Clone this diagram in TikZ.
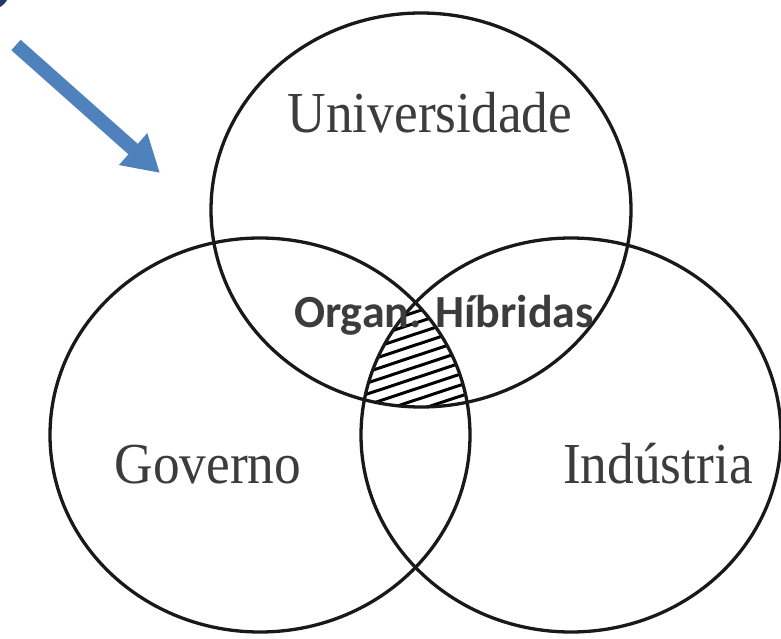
\documentclass[tikz,border=0pt]{standalone}
\usepackage{fontspec}
\setmainfont{Liberation Serif}
\newfontfamily\carlito{Carlito}
\usetikzlibrary{arrows.meta}
\definecolor{arrowblue}{HTML}{4F81BD}
\definecolor{navy}{HTML}{1F3864}
\definecolor{txtgray}{HTML}{3C3C3C}
\begin{document}
\begin{tikzpicture}[x=1pt,y=-1pt,
  venn/.style={draw=black!90,line width=3.3pt},
  lbl/.style={font=\fontsize{58}{60}\selectfont,text=txtgray,xscale=0.92,anchor=base,inner sep=0pt},
  hyb/.style={font=\carlito\bfseries\fontsize{46}{50}\selectfont,text=txtgray,anchor=base,inner sep=0pt},
  hatchline/.style={line width=3pt,black}]
\useasboundingbox (0,0) rectangle (781,639);
% partial dark circle in the corner
\fill[navy] (-8,-8) circle (17);
% arrow
\coordinate (as) at (16,45);
\coordinate (ae) at (160,173);
\draw[arrowblue,line width=14pt,-{Triangle[length=36pt,width=40pt]}] (as) -- (ae);
% hatched triple intersection
\begin{scope}
  \clip (421,210) ellipse [x radius=210,y radius=197];
  \clip (260,435) ellipse [x radius=210,y radius=197];
  \clip (571,435) ellipse [x radius=210,y radius=197];
  \foreach \c in {290,301,...,440}
    \draw[hatchline] (340,\c+25) -- (500,\c-28);
\end{scope}
% circles
\draw[venn] (421,210) ellipse [x radius=210,y radius=197];
\draw[venn] (260,435) ellipse [x radius=210,y radius=197];
\draw[venn] (571,435) ellipse [x radius=210,y radius=197];
% labels
\node[lbl] (uni) at (430,133) {Universidade};
\node[lbl] (gov) at (208,483) {Governo};
\node[lbl] (ind) at (658,483) {Indústria};
\node[hyb] (org) at (444,327) {Organ. Híbridas};
\end{tikzpicture}
\end{document}
